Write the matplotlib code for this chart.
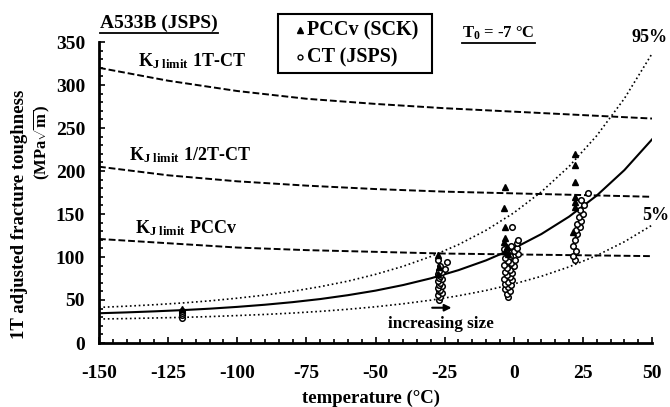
import numpy as np
import matplotlib
matplotlib.use('Agg')
from matplotlib import pyplot as plt
from matplotlib.lines import Line2D
from matplotlib.patches import Rectangle

# === 0. DATA ===

# master curve + tolerance bounds
T_curve = [-150, -140, -130, -120, -110, -100, -90, -80, -70, -60, -50,
           -40, -30, -20, -10, 0, 10, 20, 30, 40, 50]
K_med = [34.6, 35.6, 36.8, 38.2, 39.9, 42.0, 44.5, 47.5, 51.1, 55.6, 60.9,
         67.4, 75.2, 84.7, 96.1, 110.0, 126.7, 146.9, 171.4, 201.0, 236.7]
K_05 = [27.9, 28.4, 29.1, 29.8, 30.7, 31.9, 33.2, 34.8, 36.8, 39.2, 42.1,
        45.6, 49.8, 54.9, 61.1, 68.6, 77.6, 88.5, 101.7, 117.7, 137.0]
K_95 = [41.4, 42.8, 44.5, 46.5, 49.0, 52.1, 55.7, 60.1, 65.5, 71.9, 79.8,
        89.2, 100.6, 114.4, 131.1, 151.3, 175.8, 205.3, 241.0, 284.2, 336.4]

# K_J limit lines
T_lim = [-150, -125, -100, -75, -50, -25, 0, 25, 50]
KJ_1T = [320, 305, 293, 284, 278, 273, 269, 265, 261]
KJ_half = [205, 195, 188, 183, 179, 176, 174, 172, 170]
KJ_pccv = [121, 116, 111, 108, 106, 104, 103, 102, 101]

# CT (JSPS) results
ct_T = [-120, -120, -120, -120,
        -27, -26.5, -27.5, -26, -27, -26.5, -27.5, -26, -27, -26.5, -27.5,
        -26, -27, -26.5, -27.5, -26, -27, -25, -26.5, -24, -27.5,
        -2, -2.5, -1.5, -3, -2, -1, -3, -2, -0.5, -3.5, -1.5, -2.5, -0.5,
        -3, -1.5, -2.5, 0, -3.5, -1, -2, 0.5, -3, -1.5, 1.5, -2.5, 0,
        -3.5, 1, -1, 1, 1.5, -0.5,
        22, 21.5, 22.5, 21.5, 22, 23, 22.5, 24, 23, 24.5, 23.5, 25, 24,
        25.5, 24.5, 27]
ct_K = [29, 32, 35, 37,
        50, 53, 56, 58, 60, 62, 64, 66, 68, 70, 72,
        74, 76, 78, 80, 82, 84, 86, 90, 94, 97,
        54, 57, 60, 63, 65, 67, 69, 71, 73, 75, 77, 79, 81,
        83, 85, 87, 89, 91, 93, 95, 97, 99, 101, 103, 105, 107,
        109, 111, 113, 116, 120, 135,
        96, 101, 107, 113, 120, 127, 131, 135, 138, 142, 146, 150, 155,
        160, 166, 174]

# PCCv (SCK) results
pccv_T = [-120,
          -27.5, -27, -27.5,
          -3, -3.5, -3, -3, -3.5, -2.5, -3, -2,
          22, 22, 22, 22, 22, 22, 21.5]
pccv_K = [39,
          102, 88, 80,
          181, 157, 135, 122, 117, 112, 107, 103,
          220, 207, 187, 170, 164, 158, 129]

# === 1. STYLE ===

plt.rcParams['font.family'] = 'Liberation Serif'
plt.rcParams['font.weight'] = 'bold'
plt.rcParams['axes.unicode_minus'] = False
plt.rcParams['mathtext.fontset'] = 'custom'
plt.rcParams['mathtext.rm'] = 'Liberation Serif:bold'
plt.rcParams['mathtext.it'] = 'Liberation Serif:bold'
plt.rcParams['mathtext.bf'] = 'Liberation Serif:bold'

W, H = 670, 407
fig = plt.figure(figsize=(W / 100, H / 100), dpi=100)
ax = fig.add_axes([99 / W, 1 - 343 / H, 553 / W, 301 / H])

# === 2. PLOT ===

ax.plot(T_curve, K_med, 'k-', lw=1.5)
ax.plot(T_curve, K_05, 'k:', lw=1.2)
ax.plot(T_curve, K_95, 'k:', lw=1.2)

for kj in (KJ_1T, KJ_half, KJ_pccv):
    ax.plot(T_lim, kj, color='k', lw=1.4, ls=(0, (3.5, 1.5)))

ax.plot(ct_T, ct_K, 'o', ms=4, mfc='white', mec='k', mew=1.1, ls='none')
ax.plot(pccv_T, pccv_K, '^', ms=5, color='k', ls='none')

ax.set_xlim(-150, 50)
ax.set_ylim(0, 350)
ax.set_xticks(np.arange(-150, 51, 25))
ax.set_xticks(np.arange(-150, 51, 5), minor=True)
ax.set_yticks(np.arange(0, 351, 50))
ax.set_yticks(np.arange(0, 351, 10), minor=True)
ax.tick_params(which='both', direction='in', width=1.2, labelsize=14)
ax.tick_params(which='major', length=4.5)
ax.tick_params(which='minor', length=3)
ax.tick_params(axis='x', which='major', pad=16)
ax.tick_params(axis='y', which='major', pad=10)
ax.spines['top'].set_visible(False)
ax.spines['right'].set_visible(False)
ax.spines['left'].set_linewidth(2)
ax.spines['bottom'].set_linewidth(2)

# labels
fig.text(20 / W, 1 - 214 / H, '1T adjusted fracture toughness', rotation=90,
         ha='center', va='center', fontsize=13.5)
fig.text(42 / W, 1 - 142 / H, r'(MPa$\sqrt{\mathrm{m}}$)', rotation=90,
         ha='center', va='center', fontsize=12)
fig.text(371 / W, 1 - 398 / H, 'temperature (°C)', ha='center', va='center',
         fontsize=13.5)

ax.text(-136, 328, r'K$_{\mathrm{J\ limit}}$ 1T-CT', fontsize=13, va='center')
ax.text(-139, 219, r'K$_{\mathrm{J\ limit}}$ 1/2T-CT', fontsize=13, va='center')
ax.text(-137, 133, r'K$_{\mathrm{J\ limit}}$ PCCv', fontsize=13, va='center')

fig.text(650 / W, 1 - 37 / H, '95%', ha='center', va='center', fontsize=13)
fig.text(656 / W, 1 - 215 / H, '5%', ha='center', va='center', fontsize=13)

ax.text(-26.5, 22, 'increasing size', ha='center', va='center', fontsize=12.3)
ax.annotate('', xy=(-21.5, 41), xytext=(-30.5, 41),
            arrowprops=dict(arrowstyle='-|>', lw=1.5, color='k', mutation_scale=10))

title = fig.text(100 / W, 1 - 23 / H, 'A533B (JSPS)', ha='left', va='center',
                 fontsize=14)
t0 = fig.text(462 / W, 1 - 33 / H, r'T$_0$ = -7 °C', ha='left', va='center',
              fontsize=12)

# legend box, drawn by hand to match the placement
fig.add_artist(Rectangle((278 / W, 1 - 73 / H), 154 / W, 59 / H,
                         transform=fig.transFigure, fill=False,
                         edgecolor='k', lw=1.5))
leg_labels = ['PCCv (SCK)', 'CT (JSPS)']
leg_rows = [30, 57]
fig.add_artist(Line2D([300 / W], [1 - leg_rows[0] / H], transform=fig.transFigure,
                      marker='^', ms=4, color='k', ls='none'))
fig.add_artist(Line2D([300 / W], [1 - leg_rows[1] / H], transform=fig.transFigure,
                      marker='o', ms=3.5, mfc='white', mec='k', ls='none'))
for lab, row in zip(leg_labels, leg_rows):
    fig.text(307 / W, 1 - row / H, lab, ha='left', va='center', fontsize=14.5)

# underline helper
fig.canvas.draw()
for txt in (title, t0):
    bb = txt.get_window_extent()
    y = (bb.y0 - 1.5) / H
    fig.add_artist(Line2D([bb.x0 / W, bb.x1 / W], [y, y],
                          transform=fig.transFigure, color='k', lw=1.3))

fig.savefig('out.png', dpi=100)
